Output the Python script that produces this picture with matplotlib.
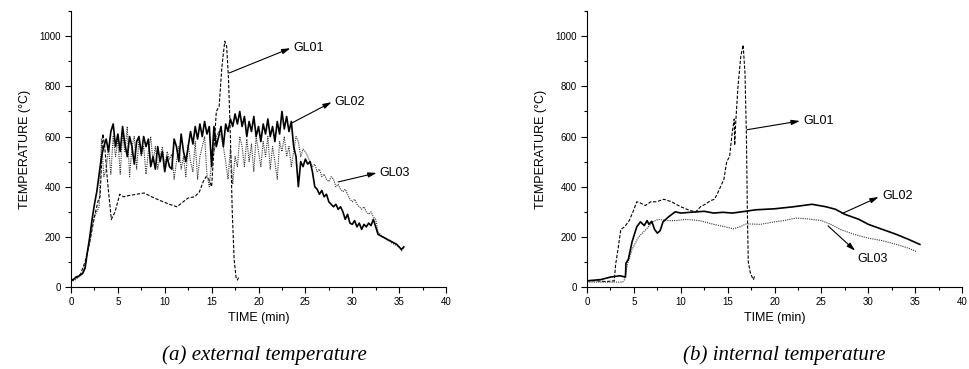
import matplotlib.pyplot as plt
import numpy as np

plt.rcParams['font.family'] = ['Liberation Sans', 'DejaVu Sans']

# ---- (a) external temperature ----
# GL02 and GL03 logged every 0.25 min, one row per minute
ext_step = 0.25
ext_gl02 = [
    25, 30, 38, 42,
    48, 55, 75, 140,
    200, 270, 330, 380,
    450, 520, 560, 590,
    540, 620, 650, 560,
    610, 540, 640, 570,
    520, 600, 560, 490,
    580, 600, 530, 600,
    560, 590, 480, 520,
    470, 560, 500, 540,
    460, 520, 480, 470,
    590, 560, 500, 610,
    540, 500, 560, 620,
    570, 640, 590, 650,
    600, 660, 610, 640,
    480, 640, 560, 600,
    640, 560, 650, 620,
    670, 640, 690, 650,
    700, 640, 680, 600,
    660, 620, 680, 600,
    640, 580, 650, 610,
    670, 600, 640, 580,
    660, 610, 700, 630,
    680, 620, 660, 560,
    520, 400, 500, 480,
    510, 490, 500, 460,
    400, 390, 370, 385,
    360, 370, 340, 330,
    320, 330, 310, 320,
    300, 270, 290, 255,
    250, 265, 240, 255,
    230, 250, 240, 255,
    245, 270, 240, 210,
    205, 200, 195, 190,
    185, 180, 175, 170,
    160, 150, 160,
]
ext_gl03 = [
    20, 25, 30, 38,
    45, 55, 90, 140,
    180, 240, 280, 300,
    320, 590, 440, 470,
    560, 450, 600, 520,
    590, 450, 610, 540,
    640, 440, 560, 600,
    470, 590, 520, 560,
    450, 540, 600, 500,
    560, 470, 520, 560,
    470, 540, 510, 530,
    430, 500, 560, 470,
    520, 440, 570, 500,
    460, 580, 430, 520,
    560, 600, 450, 400,
    500, 540, 600, 620,
    600, 560, 500, 430,
    550, 410, 520, 480,
    600, 560, 480, 590,
    500, 570, 460, 600,
    540, 480, 580, 520,
    600, 470, 560, 500,
    430, 580, 540, 600,
    520, 560, 480, 540,
    600, 580, 520, 550,
    540, 520, 500, 480,
    490, 460, 470, 440,
    450, 430, 420, 440,
    430, 400, 410, 390,
    380, 390, 370, 350,
    340, 350, 330, 320,
    310, 320, 300, 290,
    300, 280, 270, 220,
    210, 200, 195, 185,
    185, 175, 170, 165,
    160, 145, 160,
]
ext_gl01_t = [0, 0.5, 1.0, 1.5, 2.0, 2.5, 2.9, 3.1, 3.4, 3.6, 3.9, 4.3, 4.7, 5.2,
              5.6, 6.2, 7.0, 7.8, 8.6, 9.5, 10.5, 11.3, 11.8, 12.5, 13.2, 13.7,
              14.1, 14.4, 14.7, 15.0, 15.2, 15.5, 15.8, 16.1, 16.4, 16.6, 16.8,
              17.0, 17.2, 17.4, 17.6, 17.75, 17.9]
ext_gl01 = [25, 40, 50, 100, 180, 280, 345, 360, 610, 560, 420, 270, 300, 370,
            360, 365, 370, 375, 360, 345, 330, 320, 335, 355, 360, 380,
            420, 440, 430, 400, 520, 700, 720, 880, 980, 960, 830,
            600, 300, 110, 40, 28, 40]

# ---- (b) internal temperature ----
int_gl01_t = [0, 1, 2, 2.9, 3.05, 3.3, 3.6, 4.0, 4.5, 4.9, 5.3, 5.7, 6.2, 6.8,
              7.4, 8.2, 9.0, 10.0, 11.0, 11.6, 12.1, 12.6, 13.2, 13.6, 14.0,
              14.3, 14.6, 14.9, 15.2, 15.5, 15.7, 15.75, 15.85, 16.1, 16.4,
              16.65, 16.85, 17.0, 17.1, 17.2, 17.4, 17.6, 17.75, 17.9]
int_gl01 = [25, 25, 22, 25, 90, 150, 230, 240, 265, 300, 340, 335, 325, 340,
            340, 350, 340, 320, 305, 300, 320, 330, 345, 350, 380,
            405, 430, 500, 520, 620, 670, 565, 650, 800, 920,
            965, 850, 600, 300, 100, 60, 40, 30, 48]
int_gl02_t = [0, 1.5, 2.5, 3.5, 4.1, 4.15, 4.4, 4.8, 5.3, 5.7, 6.1, 6.4, 6.6,
              6.9, 7.2, 7.5, 7.8, 8.1, 8.7, 9.4, 10, 11, 12.5, 13.5, 14.5, 15.5,
              16.5, 18, 20, 22, 23, 24, 25.5, 26.5, 27.5, 29, 30, 31.5, 33,
              34.3, 35.5]
int_gl02 = [25, 30, 40, 45, 40, 95, 110, 180, 240, 260, 245, 265, 250,
            262, 230, 215, 225, 260, 280, 300, 295, 298, 302, 295, 298, 295,
            300, 308, 312, 320, 325, 330, 320, 310, 290, 270, 250, 230, 210,
            190, 170]
int_gl03_t = [0, 1, 2, 3, 3.8, 4.0, 4.3, 4.8, 5.5, 6.3, 7.0, 7.6, 8.5, 9.5,
              10.5, 12, 13.5, 15, 15.6, 16.3, 17, 18.5, 20, 21, 22.3, 23.5, 25,
              26, 27, 28.5, 30, 31.5, 33, 34.3, 35.2]
int_gl03 = [20, 20, 20, 20, 20, 30, 90, 150, 200, 230, 260, 270, 265, 265,
            270, 265, 250, 238, 232, 240, 252, 250, 260, 265, 275, 272, 265,
            250, 230, 210, 195, 185, 170, 155, 140]

ext_t = np.arange(len(ext_gl02)) * ext_step

fig = plt.figure(figsize=(9.7, 3.69), dpi=100)
ax1 = fig.add_axes([0.0732, 0.222, 0.3866, 0.748])
ax2 = fig.add_axes([0.6052, 0.222, 0.3866, 0.748])

dash = dict(color='black', lw=0.8, linestyle=(0, (3, 1.5)))
solid = dict(color='black', lw=1.2)
dot = dict(color='#333333', lw=0.8, linestyle=(0, (1, 1)))

ax1.plot(ext_gl01_t, ext_gl01, **dash)
ax1.plot(ext_t, ext_gl03, **dot)
ax1.plot(ext_t, ext_gl02, **solid)

ax2.plot(int_gl01_t, int_gl01, **dash)
ax2.plot(int_gl03_t, int_gl03, **dot)
ax2.plot(int_gl02_t, int_gl02, **solid)

arrow = dict(arrowstyle='-|>,head_length=0.5,head_width=0.15', color='black', lw=0.8,
             shrinkA=0, shrinkB=0)
ax1.annotate('', xy=(23.4, 952), xytext=(16.85, 853), arrowprops=arrow)
ax1.text(23.7, 952, 'GL01', fontsize=9, va='center', ha='left')
ax1.annotate('', xy=(27.8, 737), xytext=(23.4, 651), arrowprops=arrow)
ax1.text(28.1, 737, 'GL02', fontsize=9, va='center', ha='left')
ax1.annotate('', xy=(32.6, 455), xytext=(28.5, 419), arrowprops=arrow)
ax1.text(32.9, 455, 'GL03', fontsize=9, va='center', ha='left')

ax2.annotate('', xy=(22.7, 662), xytext=(17.05, 627), arrowprops=arrow)
ax2.text(23.1, 660, 'GL01', fontsize=9, va='center', ha='left')
ax2.annotate('', xy=(31.1, 359), xytext=(27.2, 293), arrowprops=arrow)
ax2.text(31.5, 362, 'GL02', fontsize=9, va='center', ha='left')
ax2.annotate('', xy=(28.6, 145), xytext=(25.7, 244), arrowprops=arrow)
ax2.text(28.8, 112, 'GL03', fontsize=9, va='center', ha='left')

for ax in (ax1, ax2):
    ax.set_xlim(0, 40)
    ax.set_ylim(0, 1100)
    ax.set_xticks(range(0, 41, 5))
    ax.set_xticks(np.arange(2.5, 40, 5), minor=True)
    ax.set_yticks(range(0, 1001, 200))
    ax.set_yticks(range(100, 1101, 200), minor=True)
    ax.spines['top'].set_visible(False)
    ax.spines['right'].set_visible(False)
    ax.tick_params(which='major', direction='out', length=4, width=0.8, labelsize=7)
    ax.tick_params(which='minor', direction='out', length=2.5, width=0.8)
    ax.set_xlabel('TIME (min)', fontsize=9, labelpad=3)
    ax.set_ylabel('TEMPERATURE (°C)', fontsize=9, labelpad=6)

fig.text(0.273, 0.038, '(a) external temperature', fontsize=15, style='italic',
         family=['Liberation Serif', 'DejaVu Serif'], ha='center', va='center')
fig.text(0.809, 0.038, '(b) internal temperature', fontsize=15, style='italic',
         family=['Liberation Serif', 'DejaVu Serif'], ha='center', va='center')

fig.savefig('out.png', dpi=100)
